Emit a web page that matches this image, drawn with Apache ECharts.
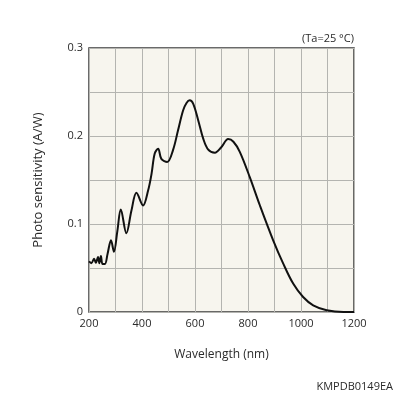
<!DOCTYPE html>
<html>
<head>
<meta charset="utf-8">
<script src="https://cdn.jsdelivr.net/npm/echarts@6/dist/echarts.min.js"></script>
<style>
  html, body { margin: 0; padding: 0; background: #fff; }
  #chart { width: 396px; height: 396px; }
</style>
</head>
<body>
<div id="chart"></div>
<script>
// wavelength in nm
const wavelength = [200, 209, 219, 226, 234, 239, 245, 251, 260, 270, 283, 294, 307, 320, 341, 360, 379,
  404, 423, 436, 448, 461, 473, 495, 517, 536, 555, 568, 580, 593, 612, 631, 650, 675, 700,
  725, 745, 769, 807, 845, 895, 933, 971, 1008, 1046, 1097, 1160, 1200]
// photo sensitivity in A/W
const sensitivity = [0.0575, 0.0555, 0.0605, 0.0560, 0.0625, 0.0555, 0.0635, 0.0545, 0.0545, 0.0660, 0.0815, 0.0685, 0.0920, 0.1165, 0.0895, 0.1150, 0.1355,
  0.1210, 0.1380, 0.1570, 0.1800, 0.1855, 0.1740, 0.1705, 0.1840, 0.2065, 0.2290, 0.2375, 0.2405, 0.2368, 0.2180, 0.1970, 0.1845, 0.1810, 0.1875,
  0.1965, 0.1935, 0.1820, 0.1530, 0.1210, 0.0815, 0.0550, 0.0320, 0.0170, 0.0076, 0.0020, 0.0000, 0.0000]
const yLabels = [0, 0.1, 0.2, 0.3]

const FONT = '"Open Sans", sans-serif'
const TEXT = '#2a2a2a'

const chart = echarts.init(document.getElementById('chart'))
chart.setOption({
  animation: false,
  backgroundColor: '#fff',
  grid: {
    left: 89, right: 42, top: 48, bottom: 84,
    show: true,
    backgroundColor: '#f7f5ee',
    borderColor: '#3a3a3a',
    borderWidth: 1.5
  },
  xAxis: {
    type: 'value',
    min: 200, max: 1200, interval: 100,
    name: 'Wavelength (nm)',
    nameLocation: 'middle',
    nameGap: 37,
    nameTextStyle: { fontFamily: FONT, fontSize: 12, color: TEXT },
    axisLine: { show: false },
    axisTick: { show: false },
    splitLine: { lineStyle: { color: '#b4b4b0', width: 1 } },
    axisLabel: {
      margin: 6,
      fontFamily: FONT, fontSize: 11, color: TEXT,
      formatter: v => (v % 200 === 0 ? String(v) : '')
    }
  },
  yAxis: {
    type: 'value',
    min: 0, max: 0.3, interval: 0.05,
    name: 'Photo sensitivity (A/W)',
    nameLocation: 'middle',
    nameGap: 44,
    nameTextStyle: { fontFamily: FONT, fontSize: 13, color: TEXT },
    axisLine: { show: false },
    axisTick: { show: false },
    splitLine: { lineStyle: { color: '#b4b4b0', width: 1 } },
    axisLabel: {
      margin: 6,
      fontFamily: FONT, fontSize: 11, color: TEXT,
      formatter: v => {
        const hit = yLabels.find(l => Math.abs(l - v) < 1e-6)
        if (hit === undefined) return ''
        return hit === 0 ? '0' : hit.toFixed(1)
      }
    }
  },
  graphic: [
    { type: 'text', right: 42, top: 33, style: { text: '(Ta=25 °C)', font: '11px ' + FONT, fill: TEXT } },
    { type: 'text', right: 3, top: 381, style: { text: 'KMPDB0149EA', font: '11px ' + FONT, fill: TEXT } }
  ],
  series: [{
    type: 'line',
    data: wavelength.map((w, i) => [w, sensitivity[i]]),
    smooth: 0.35,
    symbol: 'none',
    lineStyle: { color: '#111', width: 2 }
  }]
})
</script>
</body>
</html>
